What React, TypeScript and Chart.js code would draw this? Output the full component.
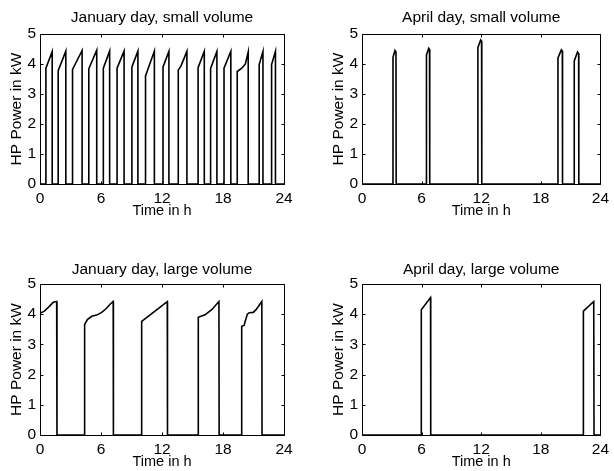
import React, { useEffect, useRef } from "react";
import { Chart, registerables } from "chart.js";

Chart.register(...registerables);

const FONT = '"Liberation Sans", Arial, Helvetica, sans-serif';

// ---------- data ----------
const X_TICKS = [0, 6, 12, 18, 24];
const Y_TICKS = [0, 1, 2, 3, 4, 5];
const X_LABEL = "Time in h";
const Y_LABEL = "HP Power in kW";

const janSmallT = [0,
  0.58, 0.58, 1.2, 1.2,
  1.79, 1.79, 2.54, 2.54,
  3.2, 3.2, 4.14, 4.14,
  4.8, 4.8, 5.58, 5.58,
  6.23, 6.23, 6.85, 6.85,
  7.58, 7.58, 8.27, 8.27,
  9.04, 9.04, 9.63, 9.63,
  10.38, 10.38, 11.25, 11.25,
  12.1, 12.1, 12.68, 12.68,
  13.6, 13.6, 13.85, 14.45, 14.45,
  15.55, 15.55, 16.16, 16.16,
  16.78, 16.78, 17.4, 17.4,
  18.1, 18.1, 18.77, 18.77,
  19.4, 19.4, 19.85, 20.2, 20.48, 20.48,
  21.56, 21.56, 21.93, 21.93,
  22.78, 22.78, 23.16, 23.16,
  24];
const janSmallP = [0,
  0, 3.86, 4.41, 0,
  0, 3.78, 4.43, 0,
  0, 3.82, 4.45, 0,
  0, 3.84, 4.46, 0,
  0, 3.86, 4.43, 0,
  0, 3.86, 4.43, 0,
  0, 3.9, 4.43, 0,
  0, 3.6, 4.43, 0,
  0, 3.9, 4.42, 0,
  0, 3.8, 3.92, 4.42, 0,
  0, 3.88, 4.42, 0,
  0, 3.85, 4.42, 0,
  0, 3.86, 4.42, 0,
  0, 3.75, 3.86, 4.0, 4.4, 0,
  0, 3.98, 4.42, 0,
  0, 3.98, 4.42, 0,
  0];

const aprSmallT = [0,
  3.12, 3.12, 3.32, 3.42, 3.44,
  6.49, 6.49, 6.72, 6.8, 6.82,
  11.67, 11.67, 11.95, 12.04, 12.06,
  19.73, 19.73, 20.07, 20.17, 20.19,
  21.37, 21.37, 21.7, 21.81, 21.83,
  24];
const aprSmallP = [0,
  0, 4.22, 4.45, 4.4, 0,
  0, 4.3, 4.52, 4.48, 0,
  0, 4.55, 4.8, 4.76, 0,
  0, 4.2, 4.47, 4.43, 0,
  0, 4.1, 4.4, 4.35, 0,
  0];

const janLargeT = [0, 0.43, 0.92, 1.31, 1.64, 1.67,
  4.39, 4.39, 4.66, 5.08, 5.57, 6.07, 6.49, 6.89, 7.2, 7.22,
  10.0, 10.0, 12.52, 12.54,
  15.57, 15.57, 16.23, 16.89, 17.6, 17.62,
  19.84, 19.84, 20.07, 20.39, 20.59, 20.98, 21.25, 21.82, 21.84,
  24];
const janLargeP = [4.03, 4.1, 4.26, 4.4, 4.42, 0,
  0, 3.66, 3.82, 3.93, 3.97, 4.06, 4.18, 4.33, 4.42, 0,
  0, 3.76, 4.42, 0,
  0, 3.9, 3.98, 4.15, 4.42, 0,
  0, 3.6, 3.63, 4.0, 4.05, 4.06, 4.15, 4.42, 0,
  0];

const aprLargeT = [0, 5.97, 5.97, 6.9, 6.92, 22.29, 22.29, 23.33, 23.36, 24];
const aprLargeP = [0, 0, 4.15, 4.55, 0, 0, 4.1, 4.42, 0, 0];

// ---------- layout ----------
type PanelCfg = {
  title: string;
  t: number[];
  p: number[];
  left: number;
  top: number;
  w: number;
  h: number;
  pad: { left: number; right: number; top: number; bottom: number };
  titlePad: { top: number; bottom: number };
};

const PANELS: PanelCfg[] = [
  {
    title: "January day, small volume", t: janSmallT, p: janSmallP,
    left: 0, top: 0, w: 307, h: 235,
    pad: { left: 0, right: 23, top: 0, bottom: 15 },
    titlePad: { top: 8.7, bottom: 6.7 },
  },
  {
    title: "April day, small volume", t: aprSmallT, p: aprSmallP,
    left: 307, top: 0, w: 307, h: 235,
    pad: { left: 15, right: 8, top: 0, bottom: 15 },
    titlePad: { top: 8.7, bottom: 6.7 },
  },
  {
    title: "January day, large volume", t: janLargeT, p: janLargeP,
    left: 0, top: 235, w: 307, h: 236,
    pad: { left: 0, right: 23, top: 0, bottom: 0 },
    titlePad: { top: 25.7, bottom: 4.7 },
  },
  {
    title: "April day, large volume", t: aprLargeT, p: aprLargeP,
    left: 307, top: 235, w: 307, h: 236,
    pad: { left: 15, right: 8, top: 0, bottom: 0 },
    titlePad: { top: 25.7, bottom: 4.7 },
  },
];

const boxPlugin = {
  id: "matlabBox",
  afterDatasetsDraw(chart: any) {
    const { ctx, chartArea: a, scales } = chart;
    const x = scales.x;
    const y = scales.y;
    const L = Math.round(a.left) + 0.5;
    const R = Math.round(a.right) + 0.5;
    const T = Math.round(a.top) + 0.5;
    const B = Math.round(a.bottom) + 0.5;
    const tl = 3;
    ctx.save();
    ctx.strokeStyle = "#000";
    ctx.lineWidth = 1;
    ctx.beginPath();
    ctx.rect(L, T, R - L, B - T);
    X_TICKS.forEach((v) => {
      const px = Math.round(x.getPixelForValue(v)) + 0.5;
      ctx.moveTo(px, B);
      ctx.lineTo(px, B - tl);
      ctx.moveTo(px, T);
      ctx.lineTo(px, T + tl);
    });
    Y_TICKS.forEach((v) => {
      const py = Math.round(y.getPixelForValue(v)) + 0.5;
      ctx.moveTo(L, py);
      ctx.lineTo(L + tl, py);
      ctx.moveTo(R, py);
      ctx.lineTo(R - tl, py);
    });
    ctx.stroke();
    ctx.restore();
  },
};

function Panel({ cfg }: { cfg: PanelCfg }) {
  const ref = useRef<HTMLCanvasElement | null>(null);
  useEffect(() => {
    if (!ref.current) return;
    const chart = new Chart(ref.current, {
      type: "line",
      data: {
        datasets: [
          {
            data: cfg.t.map((v, i) => ({ x: v, y: cfg.p[i] })),
            borderColor: "#000",
            borderWidth: 1.6,
            pointRadius: 0,
            tension: 0,
            fill: false,
          },
        ],
      },
      plugins: [boxPlugin],
      options: {
        responsive: false,
        animation: false,
        events: [],
        layout: { padding: cfg.pad },
        plugins: {
          legend: { display: false },
          tooltip: { enabled: false },
          title: {
            display: true,
            text: cfg.title,
            color: "#000",
            fullSize: false,
            font: { family: FONT, size: 15.5, weight: "normal" },
            padding: cfg.titlePad,
          },
        },
        scales: {
          x: {
            type: "linear",
            min: 0,
            max: 24,
            grid: { display: false, drawTicks: false },
            border: { display: false },
            afterBuildTicks: (s: any) => {
              s.ticks = X_TICKS.map((v) => ({ value: v }));
            },
            ticks: {
              color: "#000",
              font: { family: FONT, size: 15.5 },
              padding: 5,
              maxRotation: 0,
              autoSkip: false,
              callback: (v: any) => String(v),
            },
            title: {
              display: true,
              text: X_LABEL,
              color: "#000",
              font: { family: FONT, size: 14.5 },
              padding: { top: 0, bottom: 0 },
            },
            afterFit: (s: any) => {
              s.height = 36;
            },
          },
          y: {
            type: "linear",
            min: 0,
            max: 5,
            grid: { display: false, drawTicks: false },
            border: { display: false },
            afterBuildTicks: (s: any) => {
              s.ticks = Y_TICKS.map((v) => ({ value: v }));
            },
            ticks: {
              color: "#000",
              font: { family: FONT, size: 15.5 },
              padding: 4,
              autoSkip: false,
              callback: (v: any) => String(v),
            },
            title: {
              display: true,
              text: Y_LABEL,
              color: "#000",
              font: { family: FONT, size: 15.5 },
              padding: { top: 7.7, bottom: 0 },
            },
            afterFit: (s: any) => {
              s.width = 40;
            },
          },
        },
      },
    } as any);
    return () => chart.destroy();
  }, [cfg]);
  return (
    <canvas
      ref={ref}
      width={cfg.w}
      height={cfg.h}
      style={{
        position: "absolute",
        left: cfg.left,
        top: cfg.top,
        width: cfg.w,
        height: cfg.h,
      }}
    />
  );
}

export default function App() {
  return (
    <div
      style={{
        position: "absolute",
        left: 0,
        top: 0,
        width: 614,
        height: 471,
        background: "#fff",
      }}
    >
      {PANELS.map((cfg, i) => (
        <Panel key={i} cfg={cfg} />
      ))}
    </div>
  );
}
